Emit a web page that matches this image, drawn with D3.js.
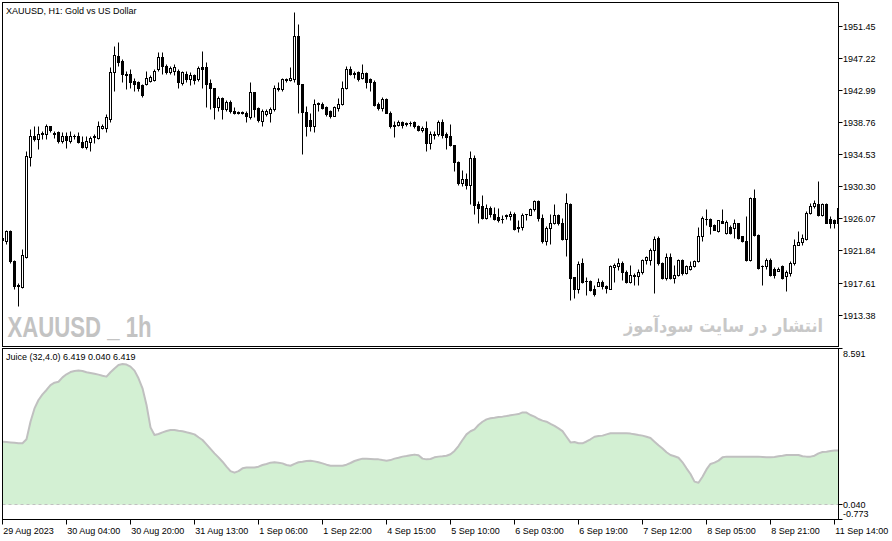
<!DOCTYPE html>
<html><head><meta charset="utf-8">
<script src="https://cdn.jsdelivr.net/npm/d3@7"></script>
<style>
html,body{margin:0;padding:0;background:#fff;}
svg{display:block;}
text{font-family:Tahoma,"Liberation Sans",Arial,sans-serif;font-size:9px;fill:#000;}
</style></head>
<body><svg id="c" width="892" height="541"></svg>
<script>
// ---- data ----
const openP = [1923.2,1923.1,1924.4,1920.5,1917.3,1917.0,1921.0,1934.2,1936.9,1936.5,
1937.2,1937.2,1938.2,1937.3,1937.4,1936.3,1936.9,1936.3,1936.9,1936.9,
1936.1,1935.5,1936.1,1936.8,1936.7,1938.0,1938.0,1939.2,1945.3,1947.5,
1946.85,1945.1,1945.1,1944.1,1944.0,1943.6,1943.8,1944.2,1944.3,1945.75,
1947.3,1946.2,1945.3,1945.5,1945.5,1943.9,1945.1,1944.4,1944.95,1944.4,
1946.0,1946.0,1943.9,1943.2,1940.7,1941.9,1940.5,1941.4,1940.2,1940.1,
1940.1,1939.9,1939.4,1942.7,1940.55,1938.9,1939.8,1939.9,1940.5,1943.1,
1943.1,1944.3,1944.3,1944.4,1950.15,1943.8,1940.1,1939.0,1938.25,1941.2,
1941.2,1940.7,1940.25,1939.6,1940.55,1941.1,1943.2,1945.8,1945.2,1945.3,
1944.5,1945.2,1944.4,1944.0,1941.1,1940.55,1941.8,1940.0,1938.35,1938.35,
1938.7,1938.55,1938.6,1938.7,1938.25,1937.7,1938.0,1936.0,1937.1,1937.15,
1938.7,1937.15,1936.9,1935.7,1933.5,1930.7,1931.2,1930.5,1934.0,1927.9,
1927.7,1926.1,1927.45,1926.6,1926.2,1926.0,1926.4,1926.35,1926.7,1924.95,
1924.95,1926.6,1926.55,1927.25,1928.4,1926.1,1923.05,1924.8,1925.4,1926.55,
1925.45,1923.3,1928.0,1918.3,1916.8,1920.2,1917.85,1917.85,1916.8,1917.2,
1917.7,1917.15,1916.8,1919.65,1919.75,1920.2,1918.95,1917.65,1918.55,1918.5,
1918.95,1920.55,1920.65,1921.95,1923.5,1920.2,1918.2,1921.0,1918.2,1918.65,
1920.55,1918.85,1919.4,1919.75,1920.4,1923.8,1926.0,1926.0,1925.15,1924.4,
1925.7,1924.15,1924.95,1924.8,1925.4,1923.7,1923.05,1920.55,1928.8,1923.85,
1919.85,1919.75,1920.65,1919.4,1919.2,1919.85,1918.5,1918.85,1920.2,1922.6,
1922.9,1923.3,1926.8,1927.7,1928.0,1926.45,1927.9,1926.0,1925.9,1925.5];
const highP = [1923.8,1924.6,1924.6,1920.6,1917.5,1922.0,1934.9,1937.8,1938.25,1938.3,
1937.6,1938.5,1938.3,1937.6,1937.6,1937.4,1937.4,1937.6,1937.15,1937.4,
1936.9,1936.9,1936.9,1937.15,1938.9,1938.5,1939.8,1946.0,1948.8,1949.3,
1947.1,1945.5,1945.75,1944.6,1944.1,1943.8,1945.5,1944.9,1945.75,1947.95,
1947.95,1946.4,1946.2,1946.4,1945.75,1945.5,1945.5,1945.3,1945.1,1946.2,
1948.1,1946.7,1944.4,1943.3,1942.2,1942.0,1941.6,1941.6,1940.7,1940.2,
1940.2,1940.2,1944.0,1942.75,1940.7,1940.5,1940.5,1940.7,1943.6,1944.0,
1944.6,1944.6,1946.0,1953.2,1951.7,1943.8,1940.9,1940.0,1941.8,1941.35,
1941.4,1940.9,1940.3,1940.9,1941.9,1944.2,1946.2,1946.2,1945.5,1945.5,
1946.4,1945.4,1944.6,1944.3,1941.35,1942.0,1941.9,1940.25,1938.9,1939.05,
1938.9,1938.8,1938.9,1938.9,1938.4,1938.25,1938.9,1937.6,1937.6,1939.05,
1939.1,1937.4,1938.5,1935.8,1933.6,1932.5,1932.1,1934.9,1934.4,1928.4,
1929.1,1928.0,1927.7,1927.6,1927.45,1926.45,1926.7,1927.0,1926.9,1925.8,
1926.8,1926.7,1927.45,1928.55,1928.55,1926.7,1925.1,1926.7,1927.9,1926.7,
1926.1,1929.35,1928.1,1918.4,1920.4,1920.85,1918.35,1917.9,1917.25,1918.2,
1917.9,1917.3,1919.95,1920.2,1920.85,1920.4,1919.3,1919.95,1918.85,1919.4,
1920.7,1921.05,1922.15,1923.7,1923.7,1920.3,1921.5,1921.5,1919.95,1920.7,
1920.7,1919.95,1920.4,1920.65,1924.95,1926.35,1927.35,1926.15,1925.35,1925.9,
1927.35,1925.9,1925.15,1926.0,1925.5,1923.8,1926.35,1928.9,1929.9,1924.05,
1919.95,1920.85,1920.85,1919.6,1919.65,1919.95,1919.3,1920.4,1923.3,1924.4,
1923.95,1927.0,1928.1,1928.55,1931.0,1928.1,1928.1,1926.35,1926.0,1927.6];
const lowP = [1922.8,1922.7,1920.2,1916.75,1914.5,1916.9,1920.9,1933.0,1936.3,1935.2,
1936.5,1936.5,1937.4,1936.6,1936.05,1936.05,1935.4,1936.05,1936.5,1936.05,
1935.4,1935.2,1934.95,1936.05,1936.5,1937.8,1937.4,1938.7,1942.9,1946.2,
1944.0,1943.1,1943.3,1942.9,1942.9,1942.0,1943.6,1944.0,1944.2,1945.5,
1945.1,1945.1,1945.1,1944.9,1943.3,1943.6,1944.0,1943.6,1943.8,1944.2,
1943.3,1940.7,1940.5,1939.1,1940.2,1939.1,1940.2,1940.0,1939.8,1939.8,
1939.8,1938.7,1939.1,1939.4,1938.7,1938.25,1939.6,1938.7,1940.2,1942.9,
1942.9,1944.0,1944.2,1944.0,1940.0,1934.5,1936.9,1937.6,1937.5,1940.25,
1940.45,1939.6,1939.35,1939.5,1940.25,1941.0,1943.1,1944.9,1944.6,1944.2,
1944.4,1943.2,1942.9,1940.9,1940.4,1940.25,1939.9,1938.0,1936.85,1938.2,
1938.0,1938.25,1938.25,1938.0,1937.6,1937.4,1934.95,1935.25,1936.5,1936.9,
1936.6,1935.25,1935.6,1932.3,1930.5,1930.3,1930.0,1927.9,1926.7,1925.5,
1926.05,1926.05,1926.3,1925.9,1925.55,1925.5,1926.0,1925.9,1924.5,1924.25,
1924.5,1925.8,1926.45,1927.1,1925.7,1922.8,1922.6,1922.75,1925.35,1925.25,
1923.2,1921.15,1915.35,1915.55,1916.3,1917.6,1916.0,1916.45,1915.85,1917.1,
1916.8,1916.3,1916.75,1917.75,1919.3,1918.0,1917.55,1917.55,1917.35,1917.35,
1918.8,1920.1,1919.95,1916.3,1919.95,1918.1,1918.0,1918.1,1917.55,1918.45,
1918.65,1918.8,1919.3,1919.6,1920.3,1923.05,1925.15,1923.95,1924.5,1924.25,
1925.4,1924.05,1923.95,1923.5,1923.35,1922.9,1920.4,1920.4,1923.7,1919.4,
1917.35,1919.45,1918.45,1918.2,1919.1,1918.1,1916.45,1918.5,1919.95,1922.5,
1922.6,1923.2,1926.6,1927.45,1926.35,1926.35,1925.4,1924.8,1924.8,1924.4];
const closeP = [1923.5,1924.4,1920.4,1917.2,1917.1,1921.2,1934.3,1936.9,1936.5,1937.2,
1937.3,1938.2,1937.7,1937.2,1936.3,1936.9,1936.4,1936.9,1936.95,1936.1,
1935.5,1936.3,1936.7,1936.9,1938.25,1938.25,1939.4,1945.3,1947.6,1946.7,
1945.1,1945.0,1944.0,1943.8,1943.3,1942.3,1944.6,1944.7,1945.5,1947.3,
1946.2,1945.3,1945.9,1946.0,1944.0,1945.3,1944.4,1944.95,1944.3,1945.9,
1945.75,1943.8,1943.2,1940.7,1941.9,1940.5,1941.4,1940.2,1939.9,1940.0,
1939.9,1939.5,1942.7,1940.5,1939.05,1940.15,1940.15,1940.5,1943.2,1943.3,
1944.4,1944.4,1944.6,1950.15,1943.8,1940.1,1938.25,1938.25,1941.2,1941.25,
1940.55,1939.8,1939.6,1940.7,1941.1,1943.2,1945.8,1945.1,1945.1,1944.4,
1945.2,1944.0,1944.0,1941.0,1940.55,1941.8,1940.0,1938.25,1938.3,1938.7,
1938.35,1938.6,1938.65,1938.2,1937.7,1938.0,1936.0,1937.15,1937.2,1938.7,
1937.0,1936.85,1935.7,1933.5,1930.7,1931.2,1930.5,1934.0,1927.8,1927.5,
1926.1,1927.4,1926.6,1926.05,1925.9,1925.95,1926.45,1926.7,1924.7,1924.75,
1926.55,1926.65,1927.3,1928.4,1926.1,1923.05,1924.8,1925.4,1926.55,1925.45,
1923.3,1928.1,1918.2,1916.8,1920.1,1917.75,1917.8,1916.65,1916.15,1917.65,
1917.1,1916.9,1919.75,1919.9,1920.2,1918.95,1917.65,1918.65,1918.5,1918.95,
1920.55,1921.0,1921.95,1923.35,1920.2,1918.2,1921.0,1918.2,1918.65,1920.55,
1918.85,1919.75,1919.85,1920.4,1923.8,1926.15,1926.05,1925.05,1924.6,1925.85,
1925.5,1925.55,1924.15,1925.4,1923.5,1923.05,1920.55,1928.8,1923.85,1919.55,
1919.8,1920.65,1918.65,1918.65,1919.45,1918.2,1918.95,1920.2,1922.6,1922.9,
1923.5,1926.8,1927.7,1928.1,1926.45,1927.9,1925.5,1925.5,1925.4,1927.45];
const juice = [3.49,3.47,3.45,3.43,3.40,3.40,3.62,4.58,5.31,5.77,
6.08,6.32,6.59,6.72,6.77,7.01,7.18,7.30,7.36,7.38,
7.36,7.29,7.25,7.21,7.16,7.10,7.05,7.29,7.50,7.69,
7.74,7.71,7.60,7.38,6.96,6.41,5.50,4.27,3.85,3.91,
4.00,4.07,4.13,4.13,4.09,4.06,4.00,3.95,3.89,3.73,
3.58,3.34,3.09,2.85,2.63,2.39,2.12,1.88,1.79,1.88,
2.03,2.07,2.07,2.08,2.12,2.21,2.27,2.34,2.36,2.34,
2.30,2.21,2.17,2.27,2.36,2.39,2.43,2.45,2.41,2.36,
2.30,2.23,2.17,2.17,2.17,2.17,2.23,2.32,2.43,2.50,
2.56,2.56,2.54,2.52,2.52,2.48,2.45,2.48,2.56,2.61,
2.67,2.70,2.74,2.78,2.74,2.56,2.52,2.54,2.63,2.67,
2.69,2.72,2.80,2.98,3.25,3.58,3.89,4.06,4.16,4.40,
4.58,4.71,4.77,4.80,4.84,4.86,4.89,4.93,4.97,5.00,
5.09,5.08,4.95,4.86,4.73,4.64,4.58,4.46,4.35,4.22,
4.07,3.76,3.45,3.47,3.40,3.40,3.50,3.62,3.76,3.80,
3.82,3.89,3.95,3.95,3.95,3.95,3.95,3.93,3.89,3.85,
3.82,3.76,3.69,3.49,3.29,3.11,2.91,2.76,2.69,2.61,
2.36,2.03,1.72,1.30,1.24,1.57,1.97,2.27,2.34,2.45,
2.63,2.67,2.67,2.67,2.67,2.67,2.67,2.67,2.67,2.67,
2.65,2.63,2.63,2.65,2.69,2.72,2.76,2.76,2.76,2.76,
2.69,2.67,2.67,2.72,2.85,2.92,2.94,2.98,3.00,3.00];
const priceTicks = [1951.45,1947.22,1942.99,1938.76,1934.53,1930.30,1926.07,1921.84,1917.61,1913.38];
const juiceTicks = [8.591,0.040,-0.773];
const juiceLevel = 0.040;
const timeTickBars = [0,16,32,48,64,80,96,112,128,144,160,176,192,208];
const timeTickLabels = ["29 Aug 2023","30 Aug 04:00","30 Aug 20:00","31 Aug 13:00","1 Sep 06:00","1 Sep 22:00","4 Sep 15:00","5 Sep 10:00","6 Sep 03:00","6 Sep 19:00","7 Sep 12:00","8 Sep 05:00","8 Sep 21:00","11 Sep 14:00"];
const titleMain = "XAUUSD, H1:  Gold vs US Dollar";
const titleInd = "Juice (32,4.0) 6.419 0.040 6.419";
const watermark1 = "XAUUSD _ 1h";
const watermark2 = "انتشار در سایت سودآموز";

// ---- layout ----
const L = 2.5, R = 838.5, T = 2.5, MB = 346.5, IT = 348.5, IB = 519.5;
const svg = d3.select("#c");
const n = openP.length;
const x = d3.scaleLinear().domain([0, n - 1]).range([2.5, 838.5]);
const y = d3.scaleLinear().domain([1913.38, 1951.45]).range([315.2, 26.2]);
const yJ = d3.scaleLinear().domain([-0.773, 8.591]).range([IB, IT]);
const snap = v => Math.round(v - 0.5) + 0.5;

const defs = svg.append("defs");
defs.append("clipPath").attr("id","cm").append("rect").attr("x",3).attr("y",3).attr("width",835).attr("height",343);
defs.append("clipPath").attr("id","ci").append("rect").attr("x",3).attr("y",349).attr("width",835).attr("height",170);

// watermarks
svg.append("text").attr("x",7.5).attr("y",336.5).text(watermark1)
  .style("font-family",'"Liberation Sans Narrow","Liberation Sans",Arial,sans-serif')
  .style("font-weight","bold").style("font-size","29px").style("fill","#c3c3c3")
  .attr("textLength",144).attr("lengthAdjust","spacingAndGlyphs");
svg.append("text").attr("x",624).attr("y",332)
  .text(watermark2)
  .style("font-family",'"DejaVu Sans",sans-serif').style("font-size","18px").style("font-weight","bold").style("fill","#c8c8c8")
  .attr("textLength",199).attr("lengthAdjust","spacingAndGlyphs");

// candles
const cg = svg.append("g").attr("clip-path","url(#cm)");
d3.range(n).forEach(i => {
  const cx = x(i);
  const o = openP[i], c = closeP[i];
  const yh = snap(y(highP[i])), yl = snap(y(lowP[i]));
  const yo = snap(y(o)), yc = snap(y(c));
  const top = Math.min(yo, yc), bot = Math.max(yo, yc);
  cg.append("line").attr("x1",cx).attr("x2",cx).attr("y1",yh).attr("y2",yl)
    .attr("stroke","#000").attr("stroke-width",1);
  if (bot - top < 1) {
    cg.append("line").attr("x1",cx-1.5).attr("x2",cx+1.5).attr("y1",top).attr("y2",top)
      .attr("stroke","#000").attr("stroke-width",1);
  } else if (c >= o) {
    cg.append("rect").attr("x",cx-1).attr("y",top).attr("width",2).attr("height",bot-top)
      .attr("fill","#fff").attr("stroke","#000").attr("stroke-width",1);
  } else {
    cg.append("rect").attr("x",cx-1.5).attr("y",top-0.5).attr("width",3).attr("height",bot-top+1)
      .attr("fill","#000");
  }
});

// indicator
const ig = svg.append("g").attr("clip-path","url(#ci)");
ig.append("path").datum(juice)
  .attr("d", d3.area().x((d,i)=>x(i)).y0(yJ(juiceLevel)).y1(d=>yJ(d)))
  .attr("fill","#d3f0d3");
ig.append("line").attr("x1",L).attr("x2",R).attr("y1",snap(yJ(juiceLevel))).attr("y2",snap(yJ(juiceLevel)))
  .attr("stroke","#c0c0c0").attr("stroke-dasharray","3,3");
ig.append("path").datum(juice)
  .attr("d", d3.line().x((d,i)=>x(i)).y(d=>yJ(d)))
  .attr("fill","none").attr("stroke","#c0c0c0").attr("stroke-width",2).attr("stroke-linejoin","round");

// frames
svg.append("rect").attr("x",L).attr("y",T).attr("width",R-L).attr("height",MB-T)
  .attr("fill","none").attr("stroke","#000");
svg.append("rect").attr("x",L).attr("y",IT).attr("width",R-L).attr("height",IB-IT)
  .attr("fill","none").attr("stroke","#000");

// price axis
const pa = svg.append("g");
priceTicks.forEach(p => {
  const yy = snap(y(p));
  pa.append("line").attr("x1",R).attr("x2",R+4).attr("y1",yy).attr("y2",yy).attr("stroke","#000");
  pa.append("text").attr("x",843).attr("y",yy+3.3).text(p.toFixed(2));
});
// juice axis
juiceTicks.forEach((v,j) => {
  const yy = snap(yJ(v));
  pa.append("line").attr("x1",R).attr("x2",R+4).attr("y1",yy).attr("y2",yy).attr("stroke","#000");
  const ty = j === 0 ? yy + 8 : (j === 2 ? yy - 2.5 : yy + 3.3);
  pa.append("text").attr("x",843).attr("y",ty).text(v.toFixed(3));
});

// time axis
timeTickBars.forEach((b,j) => {
  const xx = snap(x(b));
  svg.append("line").attr("x1",xx).attr("x2",xx).attr("y1",IB).attr("y2",IB+5).attr("stroke","#000");
  svg.append("text").attr("x",xx+0.8).attr("y",533.5).text(timeTickLabels[j]);
});

// titles
svg.append("text").attr("x",6).attr("y",14).text(titleMain);
svg.append("text").attr("x",6).attr("y",359.5).text(titleInd);
</script></body></html>
